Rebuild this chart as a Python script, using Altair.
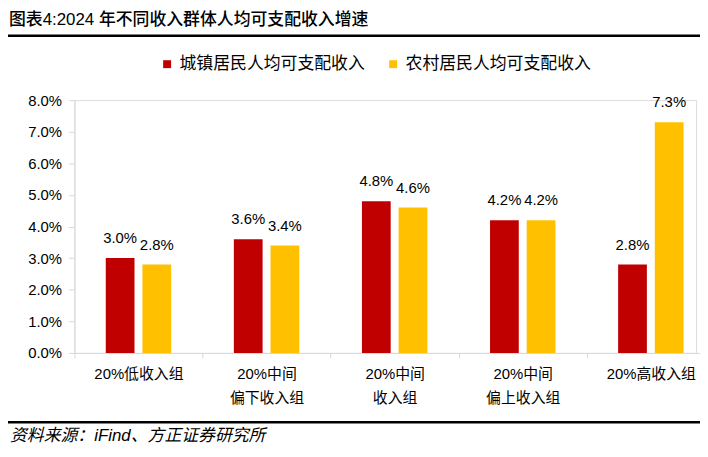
import altair as alt
import pandas as pd

# ---- data ----
categories = ["20%低收入组", "20%中间|偏下收入组", "20%中间|收入组", "20%中间|偏上收入组", "20%高收入组"]
series_names = ["城镇居民人均可支配收入", "农村居民人均可支配收入"]
urban = [3.0, 3.6, 4.8, 4.2, 2.8]
rural = [2.8, 3.4, 4.6, 4.2, 7.3]
y_ticks = [0, 1, 2, 3, 4, 5, 6, 7, 8]
colors = ["#C00000", "#FFC000"]
title_text = "图表4:2024 年不同收入群体人均可支配收入增速"
source_text = "资料来源：iFind、方正证券研究所"

rows = []
for i, c in enumerate(categories):
    rows.append({"cat": c, "series": series_names[0], "value": urban[i]})
    rows.append({"cat": c, "series": series_names[1], "value": rural[i]})
df = pd.DataFrame(rows)
one = pd.DataFrame({"k": [0]})

FONT = "Liberation Sans, Noto Sans CJK SC"
GRAY = "#d9d9d9"

x_enc = alt.X(
    "cat:N",
    sort=categories,
    scale=alt.Scale(range=[0, 646], paddingInner=0, paddingOuter=0),
    axis=alt.Axis(
        title=None, labelAngle=0, labelExpr="split(datum.label, '|')",
        labelFont=FONT, labelFontSize=15, labelLineHeight=24, labelColor="black",
        labelBaseline="top", labelPadding=9, labelOverlap=False, labelLimit=0,
        tickBand="extent", tickSize=5, tickColor=GRAY, domainColor=GRAY,
        grid=False,
    ),
)
xoff_enc = alt.XOffset("series:N", sort=series_names,
                       scale=alt.Scale(paddingInner=0.216, paddingOuter=0.855))
y_enc = alt.Y(
    "value:Q",
    scale=alt.Scale(domain=[0, 8], nice=False),
    axis=alt.Axis(
        title=None, values=y_ticks, tickCount=9,
        labelExpr="format(datum.value/100, '.1%')",
        labelFont=FONT, labelFontSize=15, labelColor="black", labelPadding=7,
        labelOverlap=False, labelFlush=False,
        tickSize=6, tickColor=GRAY, domainColor=GRAY, grid=False,
    ),
)

bars = alt.Chart(df).mark_bar().encode(
    x=x_enc,
    xOffset=xoff_enc,
    y=y_enc,
    color=alt.Color(
        "series:N",
        sort=series_names,
        scale=alt.Scale(domain=series_names, range=colors),
        legend=alt.Legend(
            title=None, orient="none", legendX=85, legendY=-45,
            direction="horizontal", symbolType="square", symbolSize=64,
            symbolStrokeWidth=0, labelFont=FONT, labelFontSize=17,
            labelColor="black", labelOffset=4, columnPadding=20, padding=0,
            labelLimit=0,
        ),
    ),
)

labels = alt.Chart(df).transform_calculate(
    lbl="format(datum.value/100, '.1%')"
).mark_text(
    baseline="alphabetic", dy=-15, font=FONT, fontSize=15, color="black"
).encode(
    x=x_enc,
    xOffset=xoff_enc,
    y=y_enc,
    text="lbl:N",
)

title = alt.Chart(one).mark_text(
    align="left", baseline="middle", font=FONT, fontSize=17, fontWeight=500,
    color="black"
).encode(x=alt.value(-66), y=alt.value(-81), text=alt.value(title_text))

title_rule = alt.Chart(one).mark_rule(color="black", strokeWidth=2.5).encode(
    x=alt.value(-67), x2=alt.value(631), y=alt.value(-65)
)

source_rule = alt.Chart(one).mark_rule(color="black", strokeWidth=2.5).encode(
    x=alt.value(-67), x2=alt.value(631), y=alt.value(325)
)

source = alt.Chart(one).mark_text(
    align="left", baseline="middle", font=FONT, fontSize=17,
    fontStyle="italic", color="black"
).encode(x=alt.value(-65), y=alt.value(339), text=alt.value(source_text))

chart = alt.layer(bars, labels, title, title_rule, source_rule, source).properties(
    width=627,
    height=255,
    autosize=alt.AutoSizeParams(type="none"),
    padding={"left": 67, "top": 91, "right": 4, "bottom": 95},
).configure_view(stroke=None).configure(background="white")

chart.save("out.html", embed_options={"renderer": "svg", "actions": False})
